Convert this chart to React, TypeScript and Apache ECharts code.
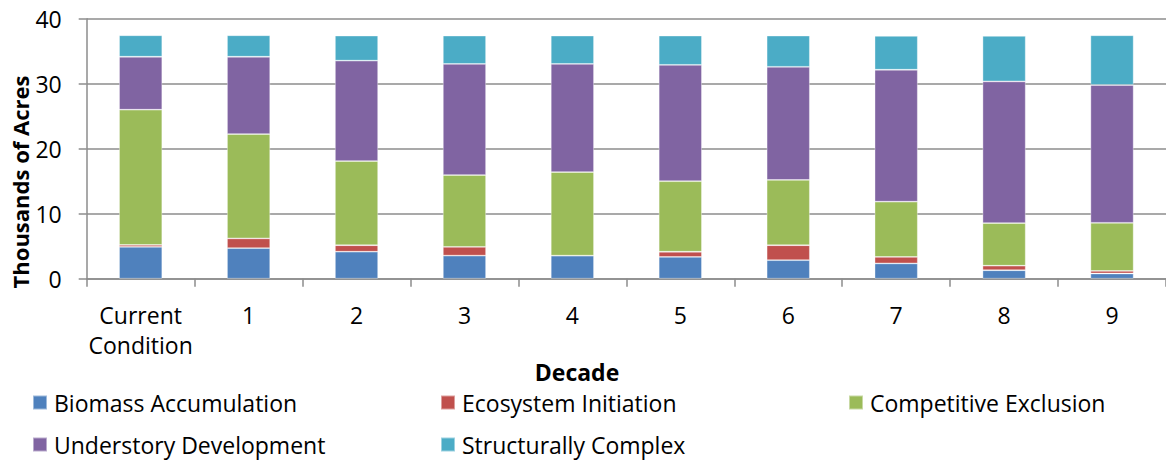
import React, { useEffect, useRef } from "react";
import * as echarts from "echarts";

const categories = ["Current\nCondition", "1", "2", "3", "4", "5", "6", "7", "8", "9"];
const seriesNames = [
  "Biomass Accumulation",
  "Ecosystem Initiation",
  "Competitive Exclusion",
  "Understory Development",
  "Structurally Complex",
];
const biomass = [4.9, 4.7, 4.15, 3.55, 3.55, 3.35, 2.85, 2.35, 1.3, 0.8];
const ecosystem = [0.3, 1.5, 1.0, 1.35, 0, 0.8, 2.3, 1.0, 0.7, 0.4];
const competitive = [20.8, 16.05, 12.95, 11.05, 12.85, 10.85, 10.05, 8.5, 6.55, 7.4];
const understory = [8.15, 11.9, 15.45, 17.1, 16.65, 17.9, 17.4, 20.3, 21.8, 21.2];
const structural = [3.3, 3.3, 3.85, 4.35, 4.35, 4.5, 4.8, 5.2, 7.0, 7.65];
const yTicks = [0, 10, 20, 30, 40];

const colors = ["#4F81BD", "#C0504D", "#9BBB59", "#8064A2", "#4BACC6"];
const FONT = "'Open Sans', 'Liberation Sans', sans-serif";
const FS = 23;

export default function App() {
  const ref = useRef<HTMLDivElement>(null);
  useEffect(() => {
    if (!ref.current) return;
    const chart = echarts.init(ref.current, undefined, { renderer: "svg" });
    const values = [biomass, ecosystem, competitive, understory, structural];
    const legendPos = [
      { left: 32, top: 391 },
      { left: 440, top: 391 },
      { left: 848, top: 391 },
      { left: 32, top: 433 },
      { left: 440, top: 433 },
    ];
    chart.setOption({
      animation: false,
      textStyle: { fontFamily: FONT },
      grid: { left: 86.7, top: 18.7, height: 260, width: 1084 },
      xAxis: {
        type: "category",
        data: categories,
        axisLine: { lineStyle: { color: "#8c8c8c", width: 1.5 } },
        axisTick: { show: true, length: 8, lineStyle: { color: "#8c8c8c", width: 1.5 } },
        axisLabel: {
          color: "#000",
          fontSize: FS,
          fontFamily: FONT,
          lineHeight: 30,
          margin: 21,
          interval: 0,
        },
      },
      yAxis: {
        type: "value",
        min: yTicks[0],
        max: yTicks[yTicks.length - 1],
        interval: 10,
        axisLine: { show: true, lineStyle: { color: "#8c8c8c", width: 1.5 } },
        axisTick: { show: true, length: 8, lineStyle: { color: "#8c8c8c", width: 1.5 } },
        splitLine: { show: true, lineStyle: { color: "#8c8c8c", width: 1.5 } },
        axisLabel: { color: "#000", fontSize: FS, fontFamily: FONT, margin: 25 },
      },
      legend: seriesNames.map((n, i) => ({
        data: [n],
        left: legendPos[i].left,
        top: legendPos[i].top,
        padding: 0,
        icon: "rect",
        itemWidth: 14,
        itemHeight: 14,
        textStyle: { color: "#000", fontSize: FS, fontFamily: FONT, padding: [0, 0, 0, 2] },
        selectedMode: false,
      })),
      graphic: [
        {
          type: "text",
          x: 577,
          y: 372,
          style: {
            text: "Decade",
            fill: "#000",
            font: `bold ${FS}px ${FONT}`,
            textAlign: "center",
            textVerticalAlign: "middle",
          },
        },
        {
          type: "text",
          x: 20,
          y: 182,
          rotation: Math.PI / 2,
          style: {
            text: "Thousands of Acres",
            fill: "#000",
            font: `bold 22px ${FONT}`,
            textAlign: "center",
            textVerticalAlign: "middle",
          },
        },
      ],
      series: seriesNames.map((n, i) => ({
        name: n,
        type: "bar",
        stack: "total",
        barWidth: "40%",
        data: values[i],
        itemStyle: {
          color: colors[i],
          borderColor: "rgba(255,255,255,0.45)",
          borderWidth: 0.8,
        },
      })),
    });
    return () => chart.dispose();
  }, []);
  return (
    <div
      ref={ref}
      style={{ position: "fixed", left: 0, top: 0, width: 1166, height: 461, background: "#fff" }}
    />
  );
}
